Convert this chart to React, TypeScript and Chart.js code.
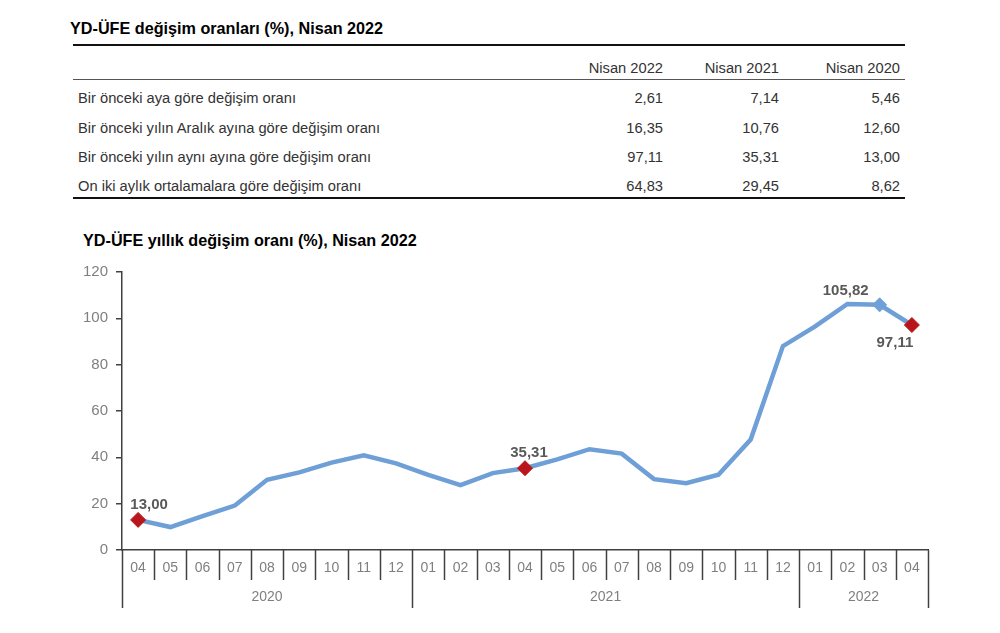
import React, { useEffect, useRef } from "react";
import { Chart, registerables } from "chart.js";

Chart.register(...registerables);

// ---------- table data ----------
const tableTitle = "YD-ÜFE değişim oranları (%), Nisan 2022";
const tableColumns = ["Nisan 2022", "Nisan 2021", "Nisan 2020"];
const tableRowLabels = [
  "Bir önceki aya göre değişim oranı",
  "Bir önceki yılın Aralık ayına göre değişim oranı",
  "Bir önceki yılın aynı ayına göre değişim oranı",
  "On iki aylık ortalamalara göre değişim oranı",
];
const tableNisan2022 = ["2,61", "16,35", "97,11", "64,83"];
const tableNisan2021 = ["7,14", "10,76", "35,31", "29,45"];
const tableNisan2020 = ["5,46", "12,60", "13,00", "8,62"];

// ---------- chart data ----------
const chartTitle = "YD-ÜFE yıllık değişim oranı (%), Nisan 2022";
const months = [
  "04", "05", "06", "07", "08", "09", "10", "11", "12",
  "01", "02", "03", "04", "05", "06", "07", "08", "09", "10", "11", "12",
  "01", "02", "03", "04",
];
const yearLabels = ["2020", "2021", "2022"];
const monthsPerYear = [9, 12, 4];
const annualChange = [
  13.0, 9.9, 14.6, 19.2, 30.3, 33.5, 37.7, 40.9, 37.4,
  32.4, 28.0, 33.2, 35.31, 39.1, 43.5, 41.6, 30.6, 28.8, 32.5, 47.7, 88.0,
  96.5, 106.2, 105.82, 97.11,
];
const pointLabels = [
  "13,00", "", "", "", "", "", "", "", "",
  "", "", "", "35,31", "", "", "", "", "", "", "", "",
  "", "", "105,82", "97,11",
];
const yTicks = [0, 20, 40, 60, 80, 100, 120];

const FONT = "'Liberation Sans', Arial, sans-serif";
const LINE_COLOR = "#6e9fd6";
const RED = "#b8161b";
const TABLE_FONT = 14.7;

const labelOffsets: Record<string, [number, number, CanvasTextAlign]> = {
  "13,00": [11, -15, "center"],
  "35,31": [4, -15, "center"],
  "105,82": [-34, -14, "center"],
  "97,11": [-17, 18, "center"],
};

const dataLabelPlugin = {
  id: "dataLabels",
  afterDatasetsDraw(chart: any) {
    const meta = chart.getDatasetMeta(0);
    const ctx = chart.ctx;
    ctx.save();
    ctx.font = `bold 15px ${FONT}`;
    ctx.fillStyle = "#595959";
    ctx.textBaseline = "middle";
    meta.data.forEach((pt: any, i: number) => {
      const txt = pointLabels[i];
      if (!txt) return;
      const off = labelOffsets[txt] || [0, -15, "center"];
      ctx.textAlign = off[2];
      ctx.fillText(txt, pt.x + off[0], pt.y + off[1]);
    });
    ctx.restore();
  },
};

const xAxisGroupsPlugin = {
  id: "xAxisGroups",
  afterDraw(chart: any) {
    const x = chart.scales.x;
    const ctx = chart.ctx;
    const bottom = chart.chartArea.bottom;
    const half = (x.getPixelForValue(1) - x.getPixelForValue(0)) / 2;
    const n = months.length;
    const yearStarts: number[] = [0];
    let acc = 0;
    monthsPerYear.forEach((c) => {
      acc += c;
      yearStarts.push(acc);
    });
    ctx.save();
    ctx.strokeStyle = "#404040";
    ctx.lineWidth = 1.5;
    for (let i = 0; i <= n; i++) {
      const bx = Math.round(x.getPixelForValue(i) - half) + 0.5;
      const isYear = yearStarts.includes(i);
      ctx.beginPath();
      ctx.moveTo(bx, bottom);
      ctx.lineTo(bx, bottom + (isYear ? 58 : 30));
      ctx.stroke();
    }
    ctx.font = `14px ${FONT}`;
    ctx.fillStyle = "#7f7f7f";
    ctx.textAlign = "center";
    ctx.textBaseline = "middle";
    yearLabels.forEach((lbl, k) => {
      const a = x.getPixelForValue(yearStarts[k]) - half;
      const b = x.getPixelForValue(yearStarts[k + 1]) - half;
      ctx.fillText(lbl, (a + b) / 2, bottom + 47);
    });
    ctx.restore();
  },
};

function LineChart() {
  const ref = useRef<HTMLCanvasElement>(null);
  useEffect(() => {
    if (!ref.current) return;
    const radii = annualChange.map((_, i) =>
      i === 0 || i === 12 || i === 24 ? 7.5 : i === 23 ? 7 : 0
    );
    const colors = annualChange.map((_, i) => (i === 23 ? LINE_COLOR : RED));
    const chart = new Chart(ref.current, {
      type: "line",
      data: {
        labels: months,
        datasets: [
          {
            data: annualChange,
            borderColor: LINE_COLOR,
            borderWidth: 4.5,
            tension: 0,
            pointStyle: "rectRot",
            pointRadius: radii,
            pointBackgroundColor: colors,
            pointBorderColor: colors,
            pointBorderWidth: 1,
            fill: false,
          },
        ],
      },
      options: {
        animation: false,
        responsive: false,
        events: [],
        layout: { padding: { top: 14, right: 72, left: 0, bottom: 0 } },
        plugins: {
          legend: { display: false },
          tooltip: { enabled: false },
          title: { display: false },
        },
        scales: {
          x: {
            type: "category",
            offset: true,
            grid: { display: false, drawTicks: false },
            border: { display: true, color: "#404040", width: 1.5 },
            ticks: {
              color: "#7f7f7f",
              font: { size: 14, family: FONT },
              padding: 10,
              autoSkip: false,
              maxRotation: 0,
            },
            afterFit(scale: any) {
              scale.height = 83;
            },
          },
          y: {
            min: 0,
            max: 120,
            afterBuildTicks(scale: any) {
              scale.ticks = yTicks.map((v) => ({ value: v }));
            },
            grid: {
              display: true,
              drawOnChartArea: false,
              drawTicks: true,
              tickLength: 6,
              color: "#404040",
              lineWidth: 1.5,
            },
            border: { display: true, color: "#404040", width: 1.5 },
            ticks: {
              color: "#7f7f7f",
              font: { size: 15, family: FONT },
              padding: 8,
            },
            afterFit(scale: any) {
              scale.width = 122;
            },
          },
        },
      },
      plugins: [dataLabelPlugin, xAxisGroupsPlugin],
    } as any);
    return () => chart.destroy();
  }, []);
  return (
    <canvas
      ref={ref}
      width={1000}
      height={378}
      style={{ position: "absolute", left: 0, top: 255, width: 1000, height: 378 }}
    />
  );
}

export default function App() {
  const rowY = [98, 128, 157, 186];
  const colRight = [663, 779, 900];
  const colValues = [tableNisan2022, tableNisan2021, tableNisan2020];
  const text = (
    content: string,
    left: number,
    cy: number,
    extra: React.CSSProperties = {}
  ) => (
    <div
      style={{
        position: "absolute",
        left,
        top: cy - 10,
        height: 20,
        lineHeight: "20px",
        whiteSpace: "nowrap",
        ...extra,
      }}
    >
      {content}
    </div>
  );
  return (
    <div
      style={{
        position: "fixed",
        left: 0,
        top: 0,
        width: 1000,
        height: 633,
        background: "#fff",
        fontFamily: FONT,
        overflow: "hidden",
      }}
    >
      {text(tableTitle, 70, 28, { fontWeight: "bold", fontSize: 16.2, color: "#000" })}
      <div style={{ position: "absolute", left: 73, top: 44, width: 832, height: 2, background: "#111" }} />
      {tableColumns.map((c, k) => (
        <div
          key={c}
          style={{
            position: "absolute",
            left: colRight[k] - 100,
            width: 100,
            top: 58,
            height: 20,
            lineHeight: "20px",
            textAlign: "right",
            fontSize: TABLE_FONT,
            color: "#333",
          }}
        >
          {c}
        </div>
      ))}
      <div style={{ position: "absolute", left: 73, top: 79, width: 832, height: 1, background: "#555" }} />
      {tableRowLabels.map((l, r) => (
        <React.Fragment key={l}>
          {text(l, 78, rowY[r], { fontSize: TABLE_FONT, color: "#333" })}
          {colValues.map((vals, k) => (
            <div
              key={k}
              style={{
                position: "absolute",
                left: colRight[k] - 100,
                width: 100,
                top: rowY[r] - 10,
                height: 20,
                lineHeight: "20px",
                textAlign: "right",
                fontSize: TABLE_FONT,
                color: "#333",
              }}
            >
              {vals[r]}
            </div>
          ))}
        </React.Fragment>
      ))}
      <div style={{ position: "absolute", left: 73, top: 197, width: 832, height: 2, background: "#111" }} />
      {text(chartTitle, 83, 240, { fontWeight: "bold", fontSize: 16.2, color: "#000" })}
      <LineChart />
    </div>
  );
}
